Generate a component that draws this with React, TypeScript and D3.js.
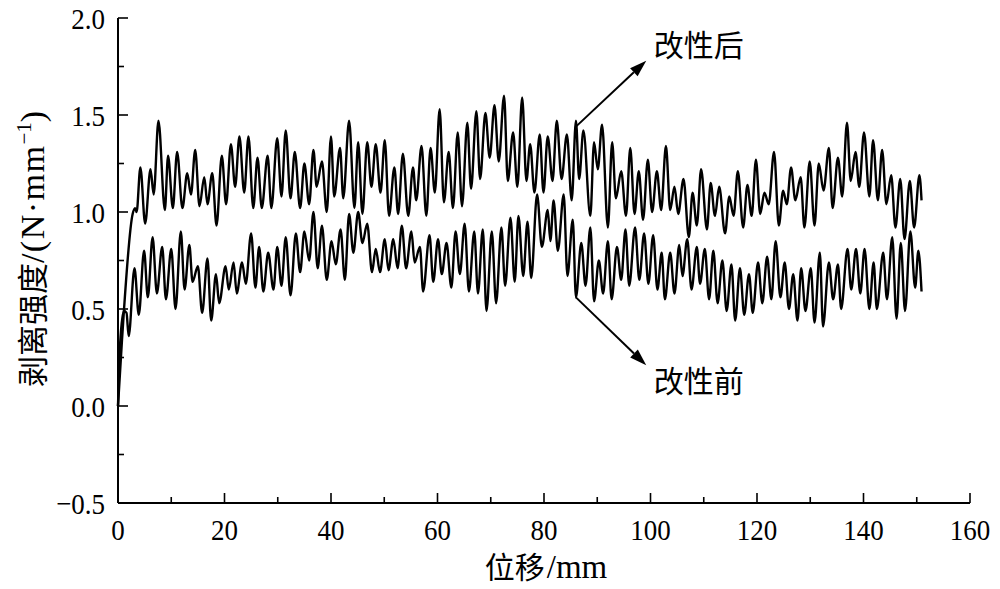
import React from 'react';
import * as d3 from 'd3';

// ---------- data ----------
const afterX = [0,0.75,2.75,3.2,3.5,4.2,5.1,6.1,6.7,7.6,8.8,9.4,10.3,11.1,12.1,13.0,13.7,14.5,15.3,16.2,16.8,17.7,18.5,19.5,20.3,21.2,22.0,22.8,23.7,24.5,25.4,26.2,27.0,28.1,28.8,29.9,30.7,31.5,32.4,33.2,34.2,35.0,35.9,36.7,37.3,38.3,39.2,40.0,40.6,41.7,42.3,43.4,44.4,45.1,45.9,46.8,47.6,48.4,49.3,50.1,50.9,51.9,52.6,53.5,54.5,55.4,56.0,57.0,57.9,58.7,59.5,60.4,61.2,62.1,62.9,63.8,64.6,65.6,66.3,67.3,68.0,69.0,69.8,70.7,71.5,72.5,73.2,74.2,75.0,75.9,76.7,77.4,78.2,79.2,79.9,80.7,81.6,82.4,83.3,84.3,85.2,86.0,86.6,87.4,88.7,89.4,90.1,90.9,92.0,92.8,93.5,94.5,95.4,96.2,97.0,97.8,98.6,99.5,100.3,101.2,102.0,102.9,103.7,104.5,105.2,106.2,107.2,107.9,108.7,109.5,110.6,111.3,112.1,112.9,114.0,114.8,115.6,116.4,117.4,118.2,119.0,119.8,120.6,121.4,122.2,123.2,124.1,124.9,125.6,126.4,127.2,128.2,128.9,129.9,130.8,131.6,132.5,133.5,134.2,135.2,136.0,136.9,137.6,138.5,139.2,140.1,141.1,141.8,142.7,143.5,144.3,145.2,146.0,146.9,147.7,148.7,149.5,150.5,150.9];
const afterY = [0,0.34,0.99,1.02,1.0,1.23,0.94,1.22,1.09,1.47,1.01,1.29,1.02,1.31,1.02,1.20,1.09,1.32,1.03,1.18,1.04,1.20,0.93,1.29,1.04,1.35,1.13,1.39,1.10,1.39,1.02,1.28,1.02,1.29,1.02,1.38,1.08,1.42,1.07,1.31,1.02,1.25,1.04,1.32,1.13,1.26,1.00,1.39,1.08,1.33,1.07,1.47,1.02,1.36,0.99,1.36,1.13,1.35,1.10,1.37,0.98,1.23,0.99,1.30,0.98,1.23,1.06,1.34,0.98,1.33,1.10,1.53,1.05,1.31,1.02,1.41,1.03,1.46,1.12,1.52,1.17,1.51,1.28,1.55,1.26,1.60,1.16,1.41,1.13,1.59,1.16,1.35,1.10,1.40,1.10,1.39,1.16,1.47,1.17,1.40,1.06,1.47,1.17,1.42,0.98,1.36,1.22,1.45,0.92,1.36,1.07,1.21,0.98,1.33,0.99,1.21,0.96,1.27,1.00,1.21,1.01,1.34,1.01,1.13,0.99,1.17,0.87,1.10,0.93,1.22,0.91,1.15,0.98,1.13,0.89,1.08,0.98,1.21,0.92,1.14,0.98,1.27,0.99,1.10,1.04,1.31,0.93,1.11,1.04,1.23,1.06,1.18,0.92,1.26,0.93,1.25,1.11,1.33,1.02,1.28,1.08,1.46,1.16,1.31,1.13,1.41,1.08,1.37,1.06,1.32,1.04,1.19,0.92,1.17,0.86,1.16,0.92,1.19,1.06];

const beforeX = [0,0.4,1.1,1.6,2.0,3.1,3.9,4.9,5.6,6.5,7.3,8.3,9.0,10.0,10.8,11.8,12.5,13.4,14.0,15.0,15.8,16.8,17.5,18.4,19.0,20.2,20.8,21.7,22.3,23.3,24.0,25.0,25.8,26.5,27.3,28.2,29.2,29.9,30.7,31.5,32.4,33.4,34.2,35.0,35.9,36.7,37.5,38.3,39.2,40.1,40.9,41.8,42.6,43.4,44.2,45.1,45.9,46.8,47.7,48.4,49.2,50.1,50.8,51.7,52.5,53.3,54.1,55.1,55.7,56.7,57.3,58.5,59.2,60.1,60.8,61.7,62.6,63.4,64.2,65.1,65.9,66.9,67.6,68.5,69.2,70.2,71.0,72.0,72.7,73.7,74.5,75.2,76.1,76.9,77.6,78.7,79.6,80.7,81.2,81.8,82.6,83.7,84.4,85.4,86.0,87.0,87.8,88.7,89.4,90.3,91.1,92.0,92.7,93.7,94.5,95.3,96.0,97.1,97.9,98.8,99.6,100.5,101.3,102.1,102.7,103.7,104.5,105.4,106.0,106.9,107.7,108.7,109.3,110.2,111.0,111.8,112.6,113.5,114.3,115.2,115.9,116.8,117.6,118.5,119.2,120.2,121.0,121.9,122.7,123.5,124.4,125.2,126.0,126.8,127.6,128.3,129.1,130.1,130.8,131.8,132.4,133.5,134.3,135.2,135.8,137.0,137.7,138.6,139.4,140.2,141.1,141.9,142.5,143.7,144.4,145.4,146.2,147.0,147.8,148.8,149.7,150.3,150.9];
const beforeY = [0,0.32,0.49,0.48,0.36,0.71,0.47,0.80,0.56,0.87,0.58,0.82,0.55,0.81,0.50,0.90,0.60,0.83,0.64,0.72,0.48,0.76,0.44,0.68,0.53,0.72,0.60,0.74,0.58,0.74,0.63,0.89,0.61,0.82,0.59,0.79,0.60,0.82,0.62,0.87,0.57,0.89,0.69,0.90,0.75,1.00,0.71,0.93,0.65,0.85,0.73,0.91,0.65,0.99,0.79,1.00,0.84,0.94,0.69,0.81,0.69,0.86,0.70,0.86,0.71,0.93,0.71,0.90,0.74,0.82,0.59,0.88,0.64,0.86,0.68,0.84,0.61,0.90,0.68,0.94,0.59,0.90,0.58,0.91,0.49,0.90,0.53,0.92,0.62,0.97,0.64,0.98,0.67,0.95,0.66,1.09,0.82,1.01,0.85,1.06,0.80,1.09,0.67,0.96,0.56,0.84,0.62,0.92,0.54,0.75,0.58,0.85,0.55,0.82,0.65,0.91,0.62,0.92,0.65,0.89,0.63,0.88,0.60,0.79,0.55,0.79,0.58,0.83,0.67,0.86,0.60,0.82,0.63,0.81,0.55,0.80,0.53,0.75,0.49,0.73,0.44,0.71,0.47,0.68,0.48,0.74,0.53,0.77,0.55,0.85,0.56,0.74,0.50,0.68,0.44,0.71,0.49,0.71,0.43,0.79,0.41,0.74,0.55,0.73,0.50,0.81,0.60,0.81,0.58,0.81,0.50,0.74,0.50,0.79,0.55,0.87,0.45,0.84,0.49,0.90,0.61,0.80,0.59];

const xMajorTicks = [0, 20, 40, 60, 80, 100, 120, 140, 160];
const xMinorTicks = [10, 30, 50, 70, 90, 110, 130, 150];
const yMajorTicks = [-0.5, 0.0, 0.5, 1.0, 1.5, 2.0];
const yMinorTicks = [-0.25, 0.25, 0.75, 1.25, 1.75];

const annotations = [
  { label: '改性后', from: [86.0, 1.44], to: [99.2, 1.78], text: [100.6, 1.86] },
  { label: '改性前', from: [86.0, 0.56], to: [99.2, 0.21], text: [100.6, 0.13] },
];

const X_DOMAIN = [0, 160];
const Y_DOMAIN = [-0.5, 2.0];

const NUM_FONT = "'Liberation Serif', 'Times New Roman', 'Noto Sans CJK SC', serif";
const CJK_FONT = "'Noto Sans CJK SC', 'Liberation Serif', sans-serif";

export default function App() {
  const W = 1000, H = 589;
  const x = d3.scaleLinear().domain(X_DOMAIN).range([118, 970]);
  const y = d3.scaleLinear().domain(Y_DOMAIN).range([503, 18]);

  const line = d3.line<[number, number]>()
    .x(d => x(d[0]))
    .y(d => y(d[1]))
    .curve(d3.curveMonotoneX);

  const afterPts = afterX.map((v, i) => [v, afterY[i]] as [number, number]);
  const beforePts = beforeX.map((v, i) => [v, beforeY[i]] as [number, number]);

  const x0 = x(X_DOMAIN[0]);
  const y0 = y(Y_DOMAIN[0]);

  const arrow = (a: typeof annotations[0], i: number) => {
    const x1 = x(a.from[0]), y1 = y(a.from[1]);
    const x2 = x(a.to[0]), y2 = y(a.to[1]);
    const ang = Math.atan2(y2 - y1, x2 - x1);
    const L = 17, Wd = 5.5;
    const bx = x2 - L * Math.cos(ang), by = y2 - L * Math.sin(ang);
    const px = -Math.sin(ang), py = Math.cos(ang);
    const pts = `${x2},${y2} ${bx + px * Wd},${by + py * Wd} ${bx - px * Wd},${by - py * Wd}`;
    return (
      <g key={i}>
        <line x1={x1} y1={y1} x2={bx} y2={by} stroke="#000" strokeWidth={2} />
        <polygon points={pts} fill="#000" />
        <text x={x(a.text[0])} y={y(a.text[1])} dy="0.36em" fontFamily={CJK_FONT} fontSize={30} fill="#000">{a.label}</text>
      </g>
    );
  };

  return (
    <svg width={W} height={H} style={{ position: 'absolute', left: 0, top: 0, background: '#fff' }}>
      <rect width={W} height={H} fill="#fff" />
      {/* data lines */}
      <path d={line(beforePts) || ''} fill="none" stroke="#000" strokeWidth={2.4} strokeLinejoin="round" />
      <path d={line(afterPts) || ''} fill="none" stroke="#000" strokeWidth={2.4} strokeLinejoin="round" />

      {/* axes */}
      <line x1={x0} y1={y(Y_DOMAIN[1])} x2={x0} y2={y0} stroke="#000" strokeWidth={2} />
      <line x1={x0} y1={y0} x2={x(X_DOMAIN[1])} y2={y0} stroke="#000" strokeWidth={2} />

      {xMajorTicks.map(t => (
        <g key={'xM' + t}>
          <line x1={x(t)} x2={x(t)} y1={y0} y2={y0 - 10} stroke="#000" strokeWidth={1.6} />
          <text transform={`translate(${x(t)},540) scale(1,1.12)`} textAnchor="middle" fontFamily={NUM_FONT} fontSize={27} fill="#000">{t}</text>
        </g>
      ))}
      {xMinorTicks.map(t => (
        <line key={'xm' + t} x1={x(t)} x2={x(t)} y1={y0} y2={y0 - 6} stroke="#000" strokeWidth={1.6} />
      ))}
      {yMajorTicks.map(t => (
        <g key={'yM' + t}>
          <line x1={x0} x2={x0 + 10} y1={y(t)} y2={y(t)} stroke="#000" strokeWidth={1.6} />
          <text transform={`translate(105,${y(t)}) scale(1,1.12)`} dy="0.35em" textAnchor="end" fontFamily={NUM_FONT} fontSize={27} fill="#000">
            {t < 0 ? '\u2212' + Math.abs(t).toFixed(1) : t.toFixed(1)}
          </text>
        </g>
      ))}
      {yMinorTicks.map(t => (
        <line key={'ym' + t} x1={x0} x2={x0 + 6} y1={y(t)} y2={y(t)} stroke="#000" strokeWidth={1.6} />
      ))}

      {/* axis titles */}
      <text x={546} y={578} textAnchor="middle" fill="#000">
        <tspan fontFamily={CJK_FONT} fontSize={30}>位移</tspan>
        <tspan fontFamily={NUM_FONT} fontSize={33} dx={2}>/mm</tspan>
      </text>
      <text transform="translate(44,249) rotate(-90)" textAnchor="middle" fill="#000">
        <tspan fontFamily={CJK_FONT} fontSize={31}>剥离强度</tspan>
        <tspan fontFamily={NUM_FONT} fontSize={34} letterSpacing={1.5}>/(N·mm</tspan>
        <tspan fontFamily={NUM_FONT} fontSize={21} dy={-13}>−1</tspan>
        <tspan fontFamily={NUM_FONT} fontSize={34} dy={13}>)</tspan>
      </text>

      {annotations.map(arrow)}
    </svg>
  );
}
